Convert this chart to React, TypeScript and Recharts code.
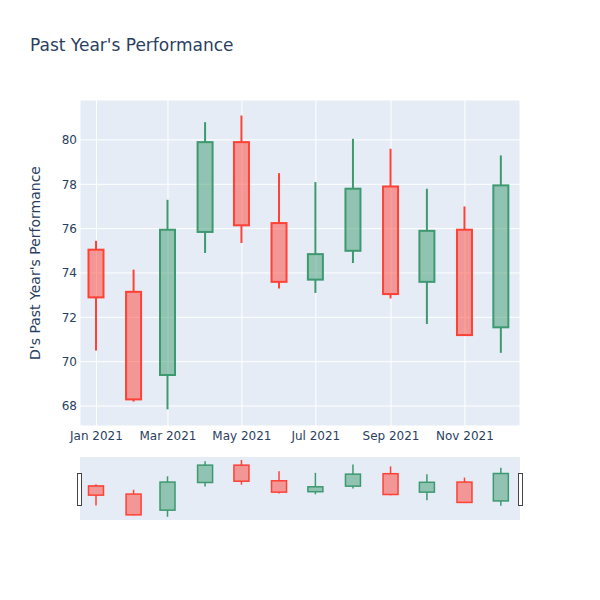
import { ComposedChart, Bar, XAxis, YAxis, CartesianGrid, Label } from 'recharts';

// monthly candles
const months = ['2021-01-01', '2021-02-01', '2021-03-01', '2021-04-01', '2021-05-01', '2021-06-01',
  '2021-07-01', '2021-08-01', '2021-09-01', '2021-10-01', '2021-11-01', '2021-12-01'];
const opens = [75.05, 73.15, 69.4, 75.85, 79.9, 76.25, 73.7, 75.0, 77.9, 73.6, 75.95, 71.55];
const highs = [75.45, 74.15, 77.3, 80.8, 81.1, 78.5, 78.1, 80.05, 79.6, 77.8, 77.0, 79.3];
const lows = [70.5, 68.2, 67.85, 74.9, 75.35, 73.3, 73.1, 74.45, 72.85, 71.7, 71.2, 70.4];
const closes = [72.9, 68.3, 75.95, 79.9, 76.15, 73.6, 74.85, 77.8, 73.05, 75.9, 71.2, 77.95];

const xTicks = ['2021-01-01', '2021-03-01', '2021-05-01', '2021-07-01', '2021-09-01', '2021-11-01'];
const yTicks = [68, 70, 72, 74, 76, 78, 80];

const MONTH_NAMES = ['Jan', 'Feb', 'Mar', 'Apr', 'May', 'Jun', 'Jul', 'Aug', 'Sep', 'Oct', 'Nov', 'Dec'];
const FONT = '"DejaVu Sans", "Open Sans", verdana, arial, sans-serif';
const INK = '#2a3f5f';

const toTime = (s: string) => new Date(s + 'T00:00:00Z').getTime();

const data = months.map((m, i) => ({
  t: toTime(m),
  open: opens[i],
  high: highs[i],
  low: lows[i],
  close: closes[i],
  range: [lows[i], highs[i]],
}));

const xDomain = [Date.UTC(2020, 11, 18, 10), Date.UTC(2021, 11, 16, 10)];
const yDomain = [67.1, 81.8];

function makeCandle(strokeWidth: number) {
  return function Candle(props: any) {
    const { x, y, width, height, payload } = props;
    const { open, close, high, low } = payload;
    const up = close >= open;
    const color = up ? '#3D9970' : '#FF4136';
    const fill = up ? 'rgba(61,153,112,0.5)' : 'rgba(255,65,54,0.5)';
    const k = height / (high - low);
    const top = y + (high - Math.max(open, close)) * k;
    const bot = y + (high - Math.min(open, close)) * k;
    const cx = x + width / 2;
    return (
      <g>
        <line x1={cx} x2={cx} y1={y} y2={top} stroke={color} strokeWidth={strokeWidth} />
        <line x1={cx} x2={cx} y1={bot} y2={y + height} stroke={color} strokeWidth={strokeWidth} />
        <rect x={x} y={top} width={width} height={Math.max(bot - top, 0.5)} fill={fill} stroke={color} strokeWidth={strokeWidth} />
      </g>
    );
  };
}

const fmtMonth = (v: number) => {
  const d = new Date(v);
  return `${MONTH_NAMES[d.getUTCMonth()]} ${d.getUTCFullYear()}`;
};

const handleStyle = (left: number): React.CSSProperties => ({
  position: 'absolute',
  left,
  top: 473,
  width: 3,
  height: 31,
  background: '#fff',
  border: '1px solid #444',
});

export default function App() {
  return (
    <div style={{ position: 'absolute', left: 0, top: 0, width: 600, height: 600, background: '#fff', fontFamily: FONT }}>
      <div style={{ position: 'absolute', left: 30, top: 35, fontSize: 17, color: INK, lineHeight: 'normal', whiteSpace: 'nowrap' }}>
        Past Year's Performance
      </div>

      <div style={{ position: 'absolute', left: 0, top: 0 }}>
        <ComposedChart width={600} height={460} data={data} margin={{ top: 100, right: 80, bottom: 4, left: 0 }}>
          <CartesianGrid stroke="#fff" strokeWidth={1} fill="#E5ECF6" fillOpacity={1} />
          <XAxis
            dataKey="t"
            type="number"
            scale="time"
            domain={xDomain}
            ticks={xTicks.map(toTime)}
            tickFormatter={fmtMonth}
            allowDataOverflow
            height={30}
            tickSize={0}
            tickMargin={5}
            axisLine={false}
            tickLine={false}
            tick={{ fontSize: 12, fill: INK, fontFamily: FONT }}
          />
          <YAxis
            type="number"
            domain={yDomain}
            ticks={yTicks}
            allowDataOverflow
            width={80}
            tickSize={0}
            tickMargin={3}
            axisLine={false}
            tickLine={false}
            tick={{ fontSize: 12, fill: INK, fontFamily: FONT }}
          >
            <Label value="D's Past Year's Performance" angle={-90} position="center" dx={-5}
              style={{ fontSize: 14, fill: INK, fontFamily: FONT }} />
          </YAxis>
          <Bar dataKey="range" barSize={15} shape={makeCandle(2)} isAnimationActive={false} />
        </ComposedChart>
      </div>

      {/* range slider */}
      <div style={{ position: 'absolute', left: 0, top: 457 }}>
        <ComposedChart width={600} height={63} data={data} margin={{ top: 0, right: 80, bottom: 0, left: 80 }}>
          <CartesianGrid horizontal={false} vertical={false} stroke="none" fill="#E5ECF6" fillOpacity={1} />
          <XAxis dataKey="t" type="number" scale="time" domain={xDomain} allowDataOverflow hide />
          <YAxis type="number" domain={yDomain} allowDataOverflow hide />
          <Bar dataKey="range" barSize={15} shape={makeCandle(1.5)} isAnimationActive={false} />
        </ComposedChart>
      </div>
      <div style={handleStyle(77)} />
      <div style={handleStyle(518)} />
    </div>
  );
}
